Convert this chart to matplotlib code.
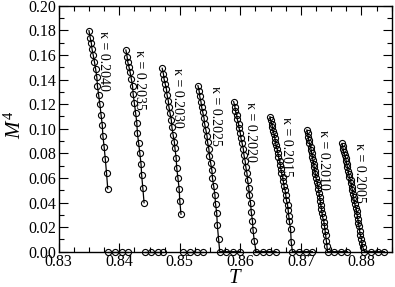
import matplotlib
matplotlib.use('Agg')
import matplotlib.pyplot as plt
from matplotlib.ticker import MultipleLocator, FormatStrFormatter

plt.rcParams['font.family'] = 'serif'
plt.rcParams['font.serif'] = ['Liberation Serif', 'DejaVu Serif']
plt.rcParams['mathtext.fontset'] = 'custom'
plt.rcParams['mathtext.rm'] = 'Liberation Serif'
plt.rcParams['mathtext.it'] = 'Liberation Serif:italic'

# --- dane: kappa, temperatura T, M^4 ---
kappas = ['0.2040', '0.2035', '0.2030', '0.2025', '0.2020', '0.2015', '0.2010', '0.2005']

T_2040 = [0.8350, 0.8352, 0.8354, 0.8355, 0.8357, 0.8359, 0.8361, 0.8363, 0.8364,
          0.8366, 0.8368, 0.8370, 0.8372, 0.8373, 0.8375, 0.8377, 0.8379, 0.8381]
M_2040 = [0.1797, 0.1740, 0.1694, 0.1648, 0.1600, 0.1545, 0.1485, 0.1418, 0.1347,
          0.1274, 0.1198, 0.1111, 0.1030, 0.0941, 0.0854, 0.0751, 0.0640, 0.0512]
T0_2040 = [0.8382, 0.8393, 0.8404, 0.8414]

T_2035 = [0.8411, 0.8413, 0.8414, 0.8416, 0.8418, 0.8420, 0.8422, 0.8423, 0.8425,
          0.8427, 0.8429, 0.8430, 0.8432, 0.8434, 0.8436, 0.8437, 0.8439, 0.8441]
M_2035 = [0.1640, 0.1585, 0.1545, 0.1504, 0.1459, 0.1404, 0.1347, 0.1280, 0.1207,
          0.1130, 0.1049, 0.0963, 0.0884, 0.0800, 0.0713, 0.0624, 0.0515, 0.0398]
T0_2035 = [0.8442, 0.8453, 0.8464, 0.8473]

T_2030 = [0.8471, 0.8473, 0.8474, 0.8476, 0.8478, 0.8479, 0.8481, 0.8482, 0.8484, 0.8486,
          0.8487, 0.8489, 0.8491, 0.8492, 0.8494, 0.8495, 0.8497, 0.8499, 0.8500, 0.8502]
M_2030 = [0.1491, 0.1445, 0.1404, 0.1363, 0.1320, 0.1274, 0.1228, 0.1179, 0.1125, 0.1071,
          0.1011, 0.0949, 0.0894, 0.0841, 0.0764, 0.0678, 0.0597, 0.0508, 0.0413, 0.0305]
T0_2030 = [0.8505, 0.8517, 0.8528, 0.8539]

T_2025 = [0.8530, 0.8532, 0.8533, 0.8535, 0.8536, 0.8538, 0.8540, 0.8541, 0.8543, 0.8545, 0.8546,
          0.8548, 0.8549, 0.8551, 0.8553, 0.8554, 0.8556, 0.8558, 0.8559, 0.8561, 0.8562, 0.8564]
M_2025 = [0.1350, 0.1305, 0.1262, 0.1220, 0.1177, 0.1133, 0.1088, 0.1041, 0.0992, 0.0941, 0.0889,
          0.0836, 0.0780, 0.0722, 0.0662, 0.0599, 0.0533, 0.0464, 0.0391, 0.0313, 0.0217, 0.0106]
T0_2025 = [0.8566, 0.8577, 0.8588, 0.8599]

T_2020 = [0.8589, 0.8591, 0.8592, 0.8594, 0.8595, 0.8597, 0.8598, 0.8600, 0.8601, 0.8603, 0.8605, 0.8606,
          0.8608, 0.8609, 0.8611, 0.8612, 0.8614, 0.8615, 0.8617, 0.8618, 0.8620, 0.8621, 0.8623]
M_2020 = [0.1220, 0.1179, 0.1144, 0.1111, 0.1076, 0.1041, 0.1003, 0.0963, 0.0922, 0.0881, 0.0835, 0.0786,
          0.0737, 0.0691, 0.0637, 0.0583, 0.0520, 0.0461, 0.0393, 0.0325, 0.0252, 0.0176, 0.0089]
T0_2020 = [0.8626, 0.8637, 0.8648, 0.8659]

T_2015 = [0.8649, 0.8650, 0.8652, 0.8653, 0.8654, 0.8656, 0.8657, 0.8658, 0.8659, 0.8661,
          0.8662, 0.8663, 0.8665, 0.8666, 0.8667, 0.8668, 0.8670, 0.8671, 0.8672, 0.8674,
          0.8675, 0.8676, 0.8678, 0.8679, 0.8680, 0.8681, 0.8683, 0.8684]
M_2015 = [0.1098, 0.1069, 0.1041, 0.1012, 0.0983, 0.0954, 0.0924, 0.0894, 0.0864, 0.0833,
          0.0802, 0.0771, 0.0739, 0.0707, 0.0673, 0.0640, 0.0606, 0.0571, 0.0535, 0.0498,
          0.0461, 0.0422, 0.0381, 0.0339, 0.0294, 0.0246, 0.0185, 0.0081]
T0_2015 = [0.8686, 0.8697, 0.8708, 0.8719]

T_2010 = [0.8710, 0.8711, 0.8712, 0.8713, 0.8714, 0.8716, 0.8717, 0.8718, 0.8719, 0.8720,
          0.8721, 0.8722, 0.8723, 0.8724, 0.8725, 0.8727, 0.8728, 0.8729, 0.8730, 0.8731,
          0.8732, 0.8733, 0.8734, 0.8735, 0.8736, 0.8738, 0.8739, 0.8740, 0.8741, 0.8742, 0.8743]
M_2010 = [0.0990, 0.0963, 0.0936, 0.0909, 0.0882, 0.0855, 0.0828, 0.0800, 0.0772, 0.0744,
          0.0716, 0.0687, 0.0658, 0.0629, 0.0599, 0.0569, 0.0539, 0.0508, 0.0477, 0.0445,
          0.0413, 0.0380, 0.0347, 0.0313, 0.0279, 0.0244, 0.0208, 0.0171, 0.0132, 0.0090, 0.0050]
T0_2010 = [0.8744, 0.8755, 0.8767, 0.8777]

T_2005 = [0.8768, 0.8769, 0.8770, 0.8771, 0.8773, 0.8774, 0.8775, 0.8776, 0.8777, 0.8778,
          0.8779, 0.8780, 0.8782, 0.8783, 0.8784, 0.8785, 0.8786, 0.8787, 0.8788, 0.8789,
          0.8791, 0.8792, 0.8793, 0.8794, 0.8795, 0.8796, 0.8797, 0.8798, 0.8800, 0.8801, 0.8802]
M_2005 = [0.0880, 0.0856, 0.0832, 0.0808, 0.0784, 0.0760, 0.0735, 0.0710, 0.0685, 0.0660,
          0.0634, 0.0608, 0.0582, 0.0555, 0.0528, 0.0501, 0.0473, 0.0445, 0.0417, 0.0388,
          0.0359, 0.0329, 0.0299, 0.0268, 0.0237, 0.0205, 0.0172, 0.0139, 0.0105, 0.0070, 0.0040]
T0_2005 = [0.8805, 0.8816, 0.8827, 0.8838]

curves = [
    (T_2040, M_2040, T0_2040, False),
    (T_2035, M_2035, T0_2035, False),
    (T_2030, M_2030, T0_2030, False),
    (T_2025, M_2025, T0_2025, True),
    (T_2020, M_2020, T0_2020, True),
    (T_2015, M_2015, T0_2015, True),
    (T_2010, M_2010, T0_2010, True),
    (T_2005, M_2005, T0_2005, True),
]

# przesuniecie etykiet w prawo od pierwszego punktu (pt)
przes = [10.8, 10.0, 10.8, 12.3, 12.0, 11.8, 11.8, 12.8]

fig = plt.figure(figsize=(3.95, 2.87), dpi=100)
ax = fig.add_axes([0.1486, 0.123, 0.843, 0.857])

styl = dict(color='black', lw=0.9, marker='o', ms=4.4, mfc='none', mec='black', mew=0.8,
            clip_on=False, zorder=3)

for (T, M, T0, polaczone), kap, dx in zip(curves, kappas, przes):
    if polaczone:
        # krzywa schodzi do zera - jedna linia
        ax.plot(T + T0, M + [0.0] * len(T0), **styl)
    else:
        ax.plot(T, M, **styl)
        ax.plot(T0, [0.0] * len(T0), **styl)
    ax.annotate('κ = ' + kap, xy=(T[0], M[0]), xytext=(dx, 0), textcoords='offset points',
                rotation=-90, ha='center', va='top', fontsize=10)

ax.set_xlim(0.83, 0.885)
ax.set_ylim(0.0, 0.20)
ax.xaxis.set_major_locator(MultipleLocator(0.01))
ax.xaxis.set_minor_locator(MultipleLocator(0.0025))
ax.yaxis.set_major_locator(MultipleLocator(0.02))
ax.yaxis.set_minor_locator(MultipleLocator(0.01))
ax.xaxis.set_major_formatter(FormatStrFormatter('%.2f'))
ax.yaxis.set_major_formatter(FormatStrFormatter('%.2f'))

ax.tick_params(which='both', direction='in', top=True, right=True, width=0.8, labelsize=11.5)
ax.tick_params(which='major', length=6.8)
ax.tick_params(which='minor', length=3.5)
ax.tick_params(axis='x', pad=1.5)
ax.tick_params(axis='y', pad=1.5)
for s in ax.spines.values():
    s.set_linewidth(1.0)

ax.set_xlabel('$T$', fontsize=15)
ax.set_ylabel('$M^4$', fontsize=15)
ax.xaxis.set_label_coords(0.53, -0.107)
ax.yaxis.set_label_coords(-0.131, 0.515)
ax.xaxis.label.set_va('center')
ax.yaxis.label.set_va('center')

fig.savefig('out.png', dpi=100)
